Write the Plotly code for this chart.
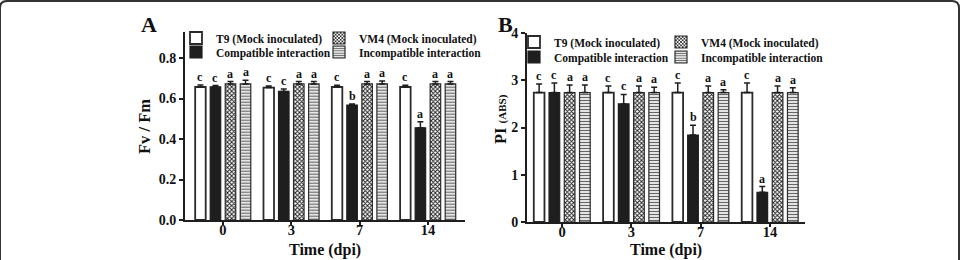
import plotly.graph_objects as go

W, H = 963, 260

times = ["0", "3", "7", "14"]
series = ["T9 (Mock inoculated)", "Compatible interaction", "VM4 (Mock inoculated)", "Incompatible interaction"]

# Panel A: Fv/Fm
fvfm_t9 = [0.657, 0.654, 0.657, 0.657]
fvfm_t9_err = [0.010, 0.008, 0.008, 0.008]
fvfm_comp = [0.658, 0.635, 0.568, 0.455]
fvfm_comp_err = [0.006, 0.012, 0.005, 0.030]
fvfm_vm4 = [0.672, 0.672, 0.672, 0.672]
fvfm_vm4_err = [0.012, 0.012, 0.012, 0.012]
fvfm_inc = [0.672, 0.672, 0.672, 0.672]
fvfm_inc_err = [0.018, 0.012, 0.015, 0.012]
fvfm_letters = [["c", "c", "c", "c"], ["c", "c", "b", "a"], ["a", "a", "a", "a"], ["a", "a", "a", "a"]]

# Panel B: PI(ABS)
pi_t9 = [2.74, 2.74, 2.74, 2.74]
pi_t9_err = [0.18, 0.14, 0.20, 0.20]
pi_comp = [2.74, 2.50, 1.84, 0.63]
pi_comp_err = [0.20, 0.20, 0.21, 0.12]
pi_vm4 = [2.74, 2.74, 2.74, 2.74]
pi_vm4_err = [0.16, 0.14, 0.14, 0.14]
pi_inc = [2.74, 2.74, 2.74, 2.74]
pi_inc_err = [0.16, 0.11, 0.06, 0.10]
pi_letters = [["c", "c", "c", "c"], ["c", "c", "b", "a"], ["a", "a", "a", "a"], ["a", "a", "a", "a"]]

xpos = list(range(len(times)))
FONT = "Liberation Serif"
TXT = "#111"
EDGE = "#2a2a2a"
BARGAP = 0.12


def px(x):
    return x / W


def py(y):
    return 1 - y / H


styles = [
    dict(color="white", line=dict(color=EDGE, width=1.8)),
    dict(color="#1e1e1e", line=dict(color="#1e1e1e", width=1.2)),
    dict(color="white", line=dict(color=EDGE, width=1.2),
         pattern=dict(shape="x", size=3, solidity=0.55, fgcolor="#222", bgcolor="white")),
    dict(color="white", line=dict(color=EDGE, width=1.2),
         pattern=dict(shape="-", size=3, solidity=0.45, fgcolor="#666", bgcolor="white")),
]
# legend slots (column, row) for each series, matching the reference's 2x2 legend grid
legend_cell = [(0, 0), (0, 1), (1, 0), (1, 1)]

fig = go.Figure()
panels = [
    ("x", "y", [fvfm_t9, fvfm_comp, fvfm_vm4, fvfm_inc],
     [fvfm_t9_err, fvfm_comp_err, fvfm_vm4_err, fvfm_inc_err], fvfm_letters,
     (176, 143), (38, 52)),
    ("x2", "y2", [pi_t9, pi_comp, pi_vm4, pi_inc],
     [pi_t9_err, pi_comp_err, pi_vm4_err, pi_inc_err], pi_letters,
     (514, 147), (42, 57)),
]
annotations = []
legends = {}
lg_n = 0
for xa, ya, vals, errs, letters, (lx0, lpitch), rows in panels:
    for k, name in enumerate(series):
        lg_n += 1
        lg = "legend" if lg_n == 1 else f"legend{lg_n}"
        col, row = legend_cell[k]
        legends[lg] = dict(x=px(lx0 + col * lpitch), y=py(rows[row]), xanchor="left",
                           yanchor="middle", orientation="h", bgcolor="rgba(0,0,0,0)",
                           borderwidth=0,
                           font=dict(family=FONT, size=11.5, color=TXT, weight="bold"))
        fig.add_trace(go.Bar(
            x=xpos, y=vals[k], name=name, xaxis=xa, yaxis=ya, legend=lg,
            marker=styles[k],
            error_y=dict(type="data", symmetric=False, array=errs[k],
                         arrayminus=[0] * len(times), color="#1e1e1e",
                         thickness=1.5, width=3),
        ))
        off = (k - 1.5) * (1 - BARGAP) / 4
        for i in xpos:
            annotations.append(dict(
                x=i + off, y=vals[k][i] + errs[k][i], xref=xa, yref=ya,
                text=letters[k][i], showarrow=False, xanchor="center", yanchor="bottom",
                yshift=-1, font=dict(family=FONT, size=12, color=TXT, weight="bold"),
            ))

tickfont = dict(family=FONT, size=14, color=TXT, weight="bold")
axis_common = dict(showline=True, linecolor="#1e1e1e", linewidth=2, ticks="outside",
                   ticklen=4, tickwidth=1.5, tickcolor="#1e1e1e", showgrid=False,
                   zeroline=False, automargin=False, tickfont=tickfont)
xaxis_common = {**axis_common, "tickfont": dict(family=FONT, size=14.5, color=TXT, weight="bold"),
                "ticklen": 3, "ticklabelstandoff": -7}

fig.update_layout(
    template="none",
    width=W, height=H, margin=dict(l=0, r=0, t=0, b=0, pad=0, autoexpand=False),
    paper_bgcolor="white", plot_bgcolor="rgba(0,0,0,0)",
    barmode="group", bargap=BARGAP, bargroupgap=0.3,
    xaxis=dict(domain=[px(185), px(465)], range=[-0.556, 3.543], anchor="y",
               tickvals=xpos, ticktext=times, **xaxis_common),
    yaxis=dict(domain=[py(220), py(31.7)], range=[0, 0.93], anchor="x",
               tickvals=[0, 0.2, 0.4, 0.6, 0.8], tickformat=".1f", **axis_common),
    xaxis2=dict(domain=[px(527), px(805)], range=[-0.505, 3.506], anchor="y2",
                tickvals=xpos, ticktext=times, **xaxis_common),
    yaxis2=dict(domain=[py(222), py(33)], range=[0, 4], anchor="x2",
                tickvals=[0, 1, 2, 3, 4], **axis_common),
    showlegend=True,
    **legends,
)

centered = dict(xref="paper", yref="paper", showarrow=False, xanchor="center", yanchor="middle")
annotations += [
    dict(x=px(149), y=py(24), text="<b>A</b>", font=dict(family=FONT, size=22, color=TXT), **centered),
    dict(x=px(505), y=py(24), text="<b>B</b>", font=dict(family=FONT, size=22, color=TXT), **centered),
    dict(x=px(144), y=py(127), text="<b>Fv / Fm</b>", textangle=-90,
         font=dict(family=FONT, size=16.5, color=TXT), **centered),
    dict(x=px(501), y=py(119), text="<b>PI <span style='font-size:11px'>(ABS)</span></b>",
         textangle=-90, font=dict(family=FONT, size=16.5, color=TXT), **centered),
    dict(x=px(325), y=py(250), text="<b>Time (dpi)</b>",
         font=dict(family=FONT, size=16, color=TXT), **centered),
    dict(x=px(666), y=py(250), text="<b>Time (dpi)</b>",
         font=dict(family=FONT, size=16, color=TXT), **centered),
]
fig.update_layout(annotations=annotations)

# outer frame of the figure panel
path = (f"M {px(0)},{py(262)} L {px(0)},{py(8)} Q {px(0)},{py(1)} {px(7)},{py(1)} "
        f"L {px(952)},{py(1)} Q {px(959)},{py(1)} {px(959)},{py(8)} L {px(959)},{py(262)}")
fig.add_shape(type="path", path=path, xref="paper", yref="paper",
              line=dict(color="#333", width=2))

fig.write_html("out.html")
